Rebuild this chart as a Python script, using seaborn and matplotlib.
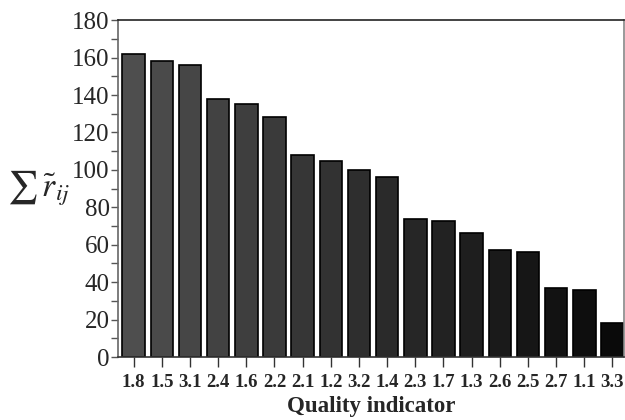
import matplotlib
matplotlib.use("Agg")
import matplotlib.pyplot as plt
import seaborn as sns
import pandas as pd
from matplotlib.ticker import MultipleLocator

# --- Data ---
indicators = ['1.8', '1.5', '3.1', '2.4', '1.6', '2.2', '2.1', '1.2', '3.2',
              '1.4', '2.3', '1.7', '1.3', '2.6', '2.5', '2.7', '1.1', '3.3']
sum_r = [162, 158, 156, 138, 135, 128, 108, 105, 100,
         96, 74, 72.5, 66, 57, 56, 37, 36, 18]

df = pd.DataFrame({'indicator': indicators, 'value': sum_r})

sns.set_style('ticks')
plt.rcParams['font.family'] = ['Liberation Serif', 'DejaVu Serif']
plt.rcParams['mathtext.fontset'] = 'stix'

fig = plt.figure(figsize=(6.25, 4.2), dpi=100)
ax = fig.add_axes([0.189, 0.15, 0.809, 0.802])

# dark grey to near black gradient across bars
colors = sns.blend_palette(['#4e4e4e', '#0a0a0a'], len(indicators))
sns.barplot(data=df, x='indicator', y='value', hue='indicator', palette=colors,
            legend=False, width=0.8, edgecolor='black', linewidth=1.2,
            saturation=1, ax=ax)

ax.set_xlim(-0.55, 17.4)
ax.set_ylim(0, 180)
ax.yaxis.set_major_locator(MultipleLocator(20))
ax.yaxis.set_minor_locator(MultipleLocator(10))

ax.tick_params(axis='y', which='major', length=5, width=1, color='#555555',
               labelsize=18, pad=1)
ax.tick_params(axis='y', which='minor', length=5, width=1, color='#555555')
ax.tick_params(axis='x', length=7, width=1, color='#333333', labelsize=13.5, pad=5)
for lbl in ax.get_xticklabels():
    lbl.set_fontweight('bold')

for side in ['top', 'right', 'left', 'bottom']:
    ax.spines[side].set_visible(True)
ax.spines['left'].set_color('#666666')
ax.spines['right'].set_color('#888888')
ax.spines['top'].set_color('#222222')
ax.spines['bottom'].set_color('#333333')
for s in ax.spines.values():
    s.set_linewidth(1.2)

ax.set_xlabel('Quality indicator', fontsize=16.5, fontweight='bold', labelpad=4)
ax.set_ylabel(r'$\sum\,\tilde{r}_{ij}$', fontsize=24, rotation=0, labelpad=24,
              va='center')

fig.savefig('out.png', dpi=100)
